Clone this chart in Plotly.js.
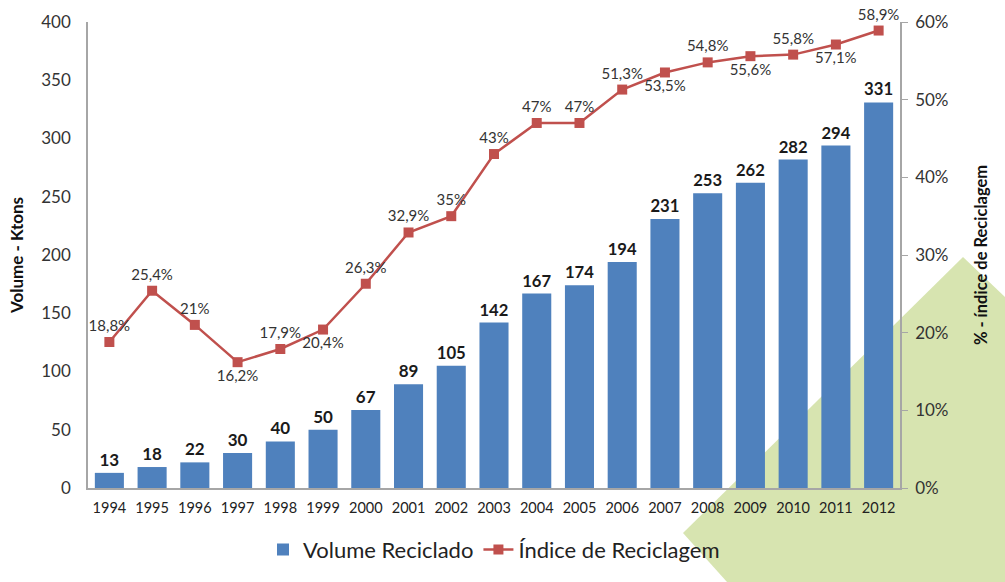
<!DOCTYPE html>
<html><head><meta charset="utf-8">
<script src="https://cdn.plot.ly/plotly-3.0.1.min.js"></script>
<style>
html,body{margin:0;padding:0;background:#fff;}
#wrap{position:relative;width:1005px;height:582px;}
#bg{position:absolute;left:0;top:0;width:1005px;height:582px;}
#chart{position:absolute;left:0;top:0;width:1005px;height:582px;}
</style>
</head><body><div id="wrap">
<svg id="bg" width="1005" height="582"><polygon points="683,533 963,257 1005,297 1005,582 727,582" fill="#d7e4b0"/></svg>
<div id="chart"></div></div>
<script>
const years = ['1994','1995','1996','1997','1998','1999','2000','2001','2002','2003','2004','2005','2006','2007','2008','2009','2010','2011','2012'];
const volume = [13,18,22,30,40,50,67,89,105,142,167,174,194,231,253,262,282,294,331];
const indice = [18.8,25.4,21,16.2,17.9,20.4,26.3,32.9,35,43,47,47,51.3,53.5,54.8,55.6,55.8,57.1,58.9];
const labelPos = ['top center','top center','top center','bottom center','top center','bottom center','top center','top center','top center','top center','top center','top center','top center','bottom center','top center','bottom center','top center','bottom center','top center'];

const fontFam = 'Lato, "Open Sans", sans-serif';
const barTrace = {
  type:'bar', x:years, y:volume, name:'Volume Reciclado',
  marker:{color:'#4F81BD'},
  text:volume.map(String), textposition:'outside', cliponaxis:false,
  textfont:{family:fontFam, size:17, color:'#1a1a1a', weight:'bold'},
  hoverinfo:'x+y'
};
const lineTrace = {
  type:'scatter', mode:'lines+markers+text', x:years, y:indice.map(v=>v/100), yaxis:'y2',
  name:'Índice de Reciclagem',
  line:{color:'#C0504D', width:2.5},
  marker:{symbol:'square', size:10, color:'#C0504D'},
  text:indice.map(v=>String(v).replace('.',',')+'%'), textposition:labelPos, cliponaxis:false,
  textfont:{family:fontFam, size:15, color:'#333'}
};
const layout = {
  width:1005, height:582,
  margin:{l:88, r:105, t:22, b:93},
  paper_bgcolor:'rgba(0,0,0,0)', plot_bgcolor:'rgba(0,0,0,0)',
  separators:',.',
  font:{family:fontFam, color:'#404040'},
  bargap:0.32,
  showlegend:true,
  legend:{orientation:'h', x:0.5, xanchor:'center', y:-0.085, yanchor:'top', font:{size:22, color:'#222'}, traceorder:'normal'},
  xaxis:{type:'category', range:[-0.5,18.5], autorange:false, showline:true, linecolor:'#a6a6a6', linewidth:1.5, ticks:'', ticklabelstandoff:6, tickfont:{size:14.5, color:'#222'}, showgrid:false, zeroline:false},
  yaxis:{range:[0,400], dtick:50, showline:true, linecolor:'#a6a6a6', linewidth:1.5, showgrid:false, zeroline:false, ticks:'', ticklabelstandoff:12, tickfont:{size:17, color:'#333'},
    title:{text:'<b>Volume - Ktons</b>', font:{size:17, color:'#111'}, standoff:13}},
  yaxis2:{overlaying:'y', side:'right', range:[0,0.6], dtick:0.1, tickformat:'.0%', showline:true, linecolor:'#a6a6a6', linewidth:1.5, showgrid:false, zeroline:false,
    ticks:'outside', ticklen:6, tickcolor:'#a6a6a6', ticklabelstandoff:4, tickfont:{size:17, color:'#333'},
    title:{text:'<b>% - índice de Reciclagem</b>', font:{size:16.5, color:'#111'}, standoff:28}}
};
Plotly.newPlot('chart',[barTrace,lineTrace],layout,{displayModeBar:false});
</script></body></html>
